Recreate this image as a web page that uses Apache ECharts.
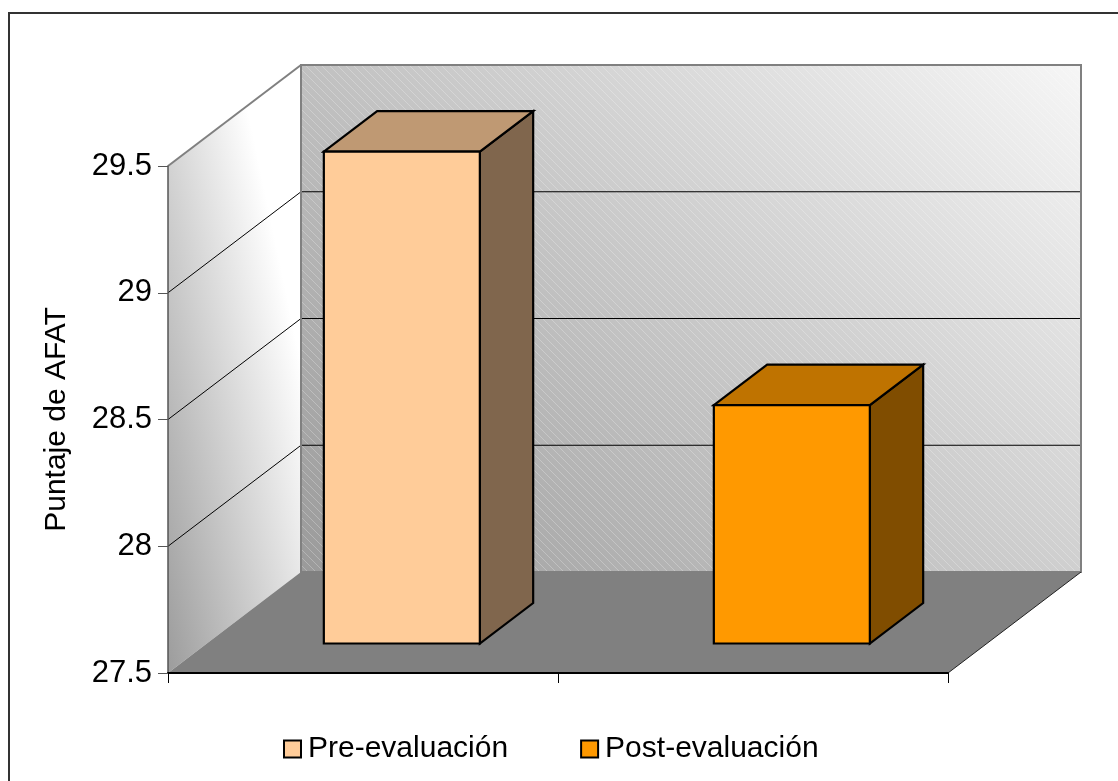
<!DOCTYPE html>
<html>
<head>
<meta charset="utf-8">
<title>Puntaje de AFAT</title>
<script src="https://cdn.jsdelivr.net/npm/echarts/dist/echarts.min.js"></script>
<style>
  html, body { margin: 0; padding: 0; background: #ffffff; }
  #chart { width: 1118px; height: 781px; }
</style>
</head>
<body>
<div id="chart"></div>
<script>
// ---- data ----
const categories = ['Pre-evaluación', 'Post-evaluación'];
const scores = [29.44, 28.44];
const yTicks = [27.5, 28, 28.5, 29, 29.5];
const barColors = ['#FFCC99', '#FF9900'];
const axisTitle = 'Puntaje de AFAT';

// ---- oblique 3D projection settings (pixels) ----
const DX = 133;          // horizontal shift of the back plane
const DY = -101;         // vertical shift of the back plane
const BAR_FRONT = 0.292; // depth fraction of the bar's front face
const BAR_BACK = 0.693;  // depth fraction of the bar's back face
const BAR_WIDTH = 0.40;  // bar width as a fraction of the category band
const FONT = '"Liberation Sans", Arial, sans-serif';

function shade(hex, f) {
  const n = parseInt(hex.slice(1), 16);
  const r = Math.round(((n >> 16) & 255) * f);
  const g = Math.round(((n >> 8) & 255) * f);
  const b = Math.round((n & 255) * f);
  return 'rgb(' + r + ',' + g + ',' + b + ')';
}

// fine diagonal hatch used on the back wall
function hatchPattern() {
  const c = document.createElement('canvas');
  c.width = 8; c.height = 8;
  const ctx = c.getContext('2d');
  ctx.strokeStyle = 'rgba(255,255,255,0.25)';
  ctx.lineWidth = 1;
  ctx.beginPath();
  ctx.moveTo(-1, -1); ctx.lineTo(9, 9);
  ctx.moveTo(-1, 7); ctx.lineTo(1, 9);
  ctx.moveTo(7, -1); ctx.lineTo(9, 1);
  ctx.stroke();
  return c;
}
const hatch = hatchPattern();

// walls, floor and wall gridlines of the 3D box
function renderWalls(params, api) {
  const cs = params.coordSys;
  const L = cs.x, R = cs.x + cs.width;
  const T = api.coord([0, yTicks[yTicks.length - 1]])[1];
  const B = api.coord([0, yTicks[0]])[1];
  const children = [];
  const back = [[L + DX, T + DY], [R + DX, T + DY], [R + DX, B + DY], [L + DX, B + DY]];
  // back wall: dark at lower left, fading to white at upper right
  children.push({
    type: 'polygon', shape: { points: back },
    style: { fill: new echarts.graphic.LinearGradient(
      L + DX, B + DY, L + DX + 663, B + DY - 732, [
      { offset: 0, color: '#9a9a9a' }, { offset: 1, color: '#ffffff' }], true) }
  });
  children.push({
    type: 'polygon', shape: { points: back },
    style: { fill: { image: hatch, repeat: 'repeat' } }
  });
  // side wall: mostly a left-to-right fade
  children.push({
    type: 'polygon',
    shape: { points: [[L, T], [L + DX, T + DY], [L + DX, B + DY], [L, B]] },
    style: { fill: new echarts.graphic.LinearGradient(
      L, B, L + 190, B - 40, [
      { offset: 0, color: '#9c9c9c' }, { offset: 1, color: '#ffffff' }], true) }
  });
  children.push({
    type: 'polygon',
    shape: { points: [[L, B], [R, B], [R + DX, B + DY], [L + DX, B + DY]] },
    style: { fill: '#808080' }
  });
  // gridlines on the side and back walls
  yTicks.slice(1, -1).forEach(function (v) {
    const y = api.coord([0, v])[1];
    children.push({ type: 'polyline',
      shape: { points: [[L, y], [L + DX, y + DY], [R + DX, y + DY]] },
      style: { stroke: '#000', lineWidth: 1, fill: null } });
  });
  // wall outlines
  children.push({ type: 'polygon', shape: { points: back },
    style: { fill: null, stroke: '#808080', lineWidth: 2 } });
  children.push({ type: 'line', shape: { x1: L, y1: T, x2: L + DX, y2: T + DY },
    style: { stroke: '#808080', lineWidth: 2 } });
  children.push({ type: 'line', shape: { x1: R, y1: B, x2: R + DX, y2: B + DY },
    style: { stroke: '#222', lineWidth: 1 } });
  return { type: 'group', children: children };
}

// one 3D column per category: front, top and side faces
function renderBar(params, api) {
  const cat = api.value(0), val = api.value(1);
  const base = api.coord([cat, yTicks[0]]);
  const top = api.coord([cat, val]);
  const band = api.size([1, 0])[0];
  const w = band * BAR_WIDTH;
  const x0 = base[0] - w / 2, x1 = x0 + w;
  const fx = BAR_FRONT * DX, fy = BAR_FRONT * DY;
  const bx = BAR_BACK * DX, by = BAR_BACK * DY;
  const yt = top[1], yb = base[1];
  const color = barColors[cat];
  const edge = { stroke: '#000', lineWidth: 2.2, lineJoin: 'miter' };
  return {
    type: 'group',
    children: [
      { type: 'polygon',
        shape: { points: [[x1 + fx, yt + fy], [x1 + bx, yt + by], [x1 + bx, yb + by], [x1 + fx, yb + fy]] },
        style: Object.assign({ fill: shade(color, 0.5) }, edge) },
      { type: 'polygon',
        shape: { points: [[x0 + fx, yt + fy], [x1 + fx, yt + fy], [x1 + bx, yt + by], [x0 + bx, yt + by]] },
        style: Object.assign({ fill: shade(color, 0.75) }, edge) },
      { type: 'polygon',
        shape: { points: [[x0 + fx, yt + fy], [x1 + fx, yt + fy], [x1 + fx, yb + fy], [x0 + fx, yb + fy]] },
        style: Object.assign({ fill: color }, edge) }
    ]
  };
}

const chart = echarts.init(document.getElementById('chart'), null, { renderer: 'canvas' });

const series = [{
  type: 'custom', name: '__walls', coordinateSystem: 'cartesian2d',
  renderItem: renderWalls, data: [[0, yTicks[0]]], z: 1, silent: true, clip: false
}];
categories.forEach(function (name, i) {
  series.push({
    type: 'custom', name: name, coordinateSystem: 'cartesian2d',
    renderItem: renderBar, data: [[i, scores[i]]], z: 3, clip: false,
    itemStyle: { color: barColors[i], borderColor: '#000', borderWidth: 2 }
  });
});

chart.setOption({
  animation: false,
  backgroundColor: '#ffffff',
  textStyle: { fontFamily: FONT },
  grid: { left: 168, right: 170, top: 166, bottom: 108 },
  xAxis: {
    type: 'category', data: categories, z: 10,
    boundaryGap: true,
    axisLine: { lineStyle: { color: '#000', width: 2 } },
    axisTick: { show: true, length: 10, lineStyle: { color: '#000', width: 1 } },
    axisLabel: { show: false },
    splitLine: { show: false }
  },
  yAxis: {
    type: 'value', min: 27.5, max: 29.5, interval: 0.5, z: 10,
    name: axisTitle, nameLocation: 'middle', nameRotate: 90, nameGap: 96,
    nameTextStyle: { fontSize: 30, color: '#000', fontFamily: FONT },
    axisLine: { show: true, lineStyle: { color: '#555', width: 1.5 } },
    axisTick: { show: true, length: 10, lineStyle: { color: '#555', width: 1 } },
    axisLabel: { fontSize: 31, color: '#000', margin: 16, fontFamily: FONT },
    splitLine: { show: false }
  },
  legend: {
    data: categories, left: 283, top: 734, itemGap: 72, padding: 0,
    icon: 'rect', itemWidth: 17, itemHeight: 17,
    itemStyle: { borderColor: '#000', borderWidth: 2 },
    textStyle: { fontSize: 30, color: '#000', fontFamily: FONT, padding: [0, 0, 0, 2] },
    selectedMode: false
  },
  graphic: [{
    type: 'rect', silent: true, z: 100,
    shape: { x: 9, y: 13, width: 1130, height: 800 },
    style: { fill: null, stroke: '#333', lineWidth: 2 }
  }],
  series: series
});
</script>
</body>
</html>
